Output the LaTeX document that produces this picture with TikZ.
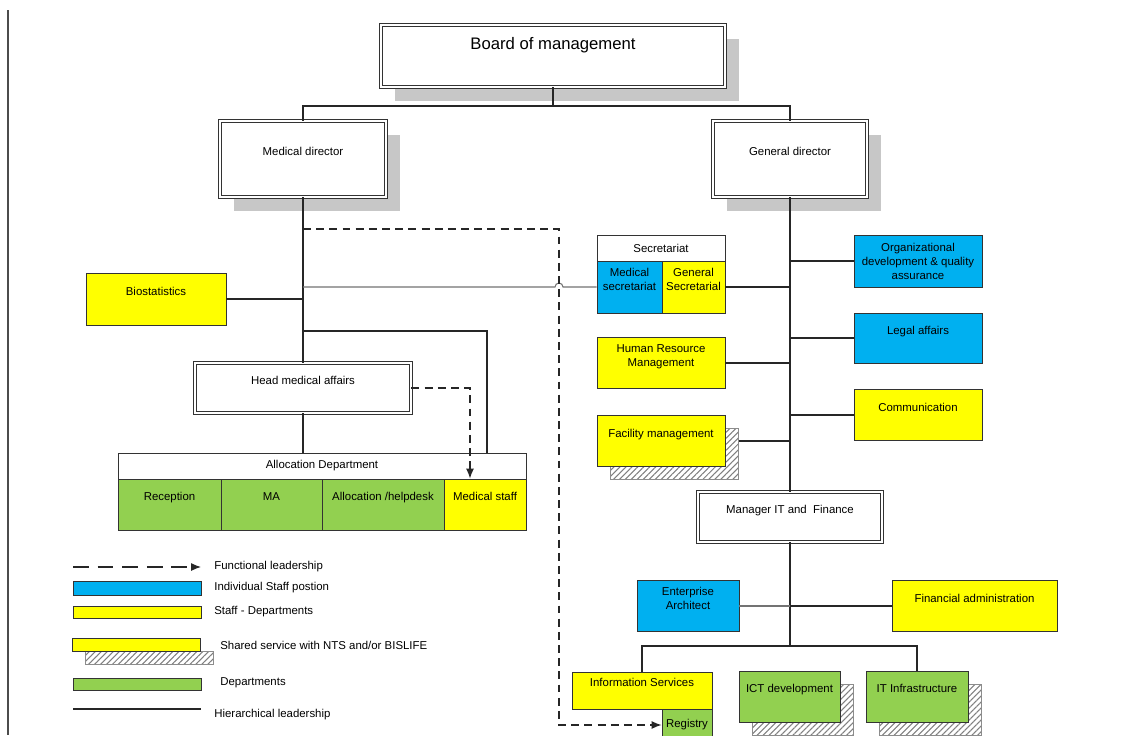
\documentclass[tikz,border=0pt]{standalone}
\usepackage{fontspec}
\setmainfont{Liberation Sans}
\usepackage{tikz}
\usetikzlibrary{arrows.meta,shadows,patterns.meta}
\definecolor{staffblue}{RGB}{0,176,240}
\definecolor{staffyellow}{RGB}{255,255,0}
\definecolor{deptgreen}{RGB}{146,208,80}
\tikzstyle{box}=[rectangle, draw=black!80, line width=0.55pt, inner sep=1pt, align=center]
\tikzstyle{plain}=[box, fill=white]
\tikzstyle{head}=[box, fill=white, double, double distance=1.2pt]
\tikzstyle{chief}=[head, drop shadow={shadow xshift=0.28cm, shadow yshift=-0.28cm, fill=black!22, opacity=1}]
\tikzstyle{staff}=[box, fill=staffblue]
\tikzstyle{staffdep}=[box, fill=staffyellow]
\tikzstyle{dept}=[box, fill=deptgreen]
\tikzstyle{shared}=[drop shadow={shadow xshift=0.27cm, shadow yshift=-0.26cm, pattern={Lines[angle=45, distance=2.4pt, line width=0.6pt]}, pattern color=black!50, draw=black!45, opacity=1}]
\tikzstyle{legtext}=[anchor=west, inner sep=0pt]
\tikzstyle{hier}=[draw=black!85, line width=0.6pt]
\tikzstyle{grayl}=[draw=black!55, line width=0.6pt]
\tikzstyle{funct}=[draw=black!85, line width=0.6pt, dash pattern=on 4.5pt off 3pt, -{Latex[length=2mm, width=1.6mm]}]
\tikzstyle{legfunct}=[funct, dash pattern=on 9pt off 5pt]
\tikzset{sz/.style 2 args={minimum width=#1*0.02cm, minimum height=#2*0.02cm},
	lift/.style={text depth=#1}, lift/.default=8.8pt}

\begin{document}
\begin{tikzpicture}[x=0.02cm, y=-0.02cm, font=\fontsize{6.5}{8}\selectfont]
	\clip (0,0) rectangle (1123,735);
	\fill[white] (0,0) rectangle (1123,735);
	\draw[black!70, line width=0.8pt] (8,10) -- (8,735);
	\begin{scope}
		\node (bm) at (553,56)[chief, sz={344}{62}, lift=14.6pt] {\fontsize{9.5}{11}\selectfont Board of management};
		\node (md) at (303,159)[chief, sz={166}{76}, lift] {Medical director};
		\node (gd) at (790,159)[chief, sz={154}{76}, lift] {General director};
		\node (bio) at (156,299)[staffdep, sz={140}{52}, lift] {Biostatistics};
		\node (hma) at (303,388)[head, sz={216}{50}, lift] {Head medical affairs};
		\node (alloc) at (322,466)[plain, sz={408}{26}] {Allocation Department};
		\node (rec) at (169.5,504.5)[dept, sz={103}{51}, lift] {Reception};
		\node (ma) at (271.5,504.5)[dept, sz={101}{51}, lift] {MA};
		\node (ahd) at (383,504.5)[dept, sz={122}{51}, lift] {Allocation /helpdesk};
		\node (mst) at (485,504.5)[staffdep, sz={82}{51}, lift] {Medical staff};
		\node (sec) at (661,248)[plain, sz={128}{26}] {Secretariat};
		\node (msec) at (629.5,287)[staff, sz={65}{52}, lift] {Medical\\secretariat};
		\node (gsec) at (693.5,287)[staffdep, sz={63}{52}, lift] {General\\Secretarial};
		\node (hrm) at (661,363)[staffdep, sz={128}{51}, lift] {Human Resource\\Management};
		\node (fac) at (661,441)[staffdep, shared, sz={128}{51}, lift] {Facility management};
		\node (org) at (918,261)[staff, sz={128}{52}] {Organizational\\development \& quality\\assurance};
		\node (leg) at (918,338)[staff, sz={128}{50}, lift] {Legal affairs};
		\node (com) at (918,415)[staffdep, sz={128}{51}, lift] {Communication};
		\node (mit) at (790,517)[head, sz={184}{50}, lift] {Manager IT and~ Finance};
		\node (ea) at (688,606)[staff, sz={102}{51}, lift] {Enterprise\\Architect};
		\node (fin) at (974.5,606)[staffdep, sz={165}{51}, lift] {Financial administration};
		\node (ins) at (642,690.5)[staffdep, sz={140}{37}, lift] {Information Services};
		\node (reg) at (687,725)[dept, sz={50}{32}] {Registry};
		\node (ict) at (789.5,696.5)[dept, shared, sz={101}{51}, lift] {ICT development};
		\node (iti) at (917,696.5)[dept, shared, sz={102}{51}, lift] {IT Infrastructure};
	\end{scope}
	\begin{scope}
		\coordinate (top) at (553,106);
		\coordinate (ms) at (487,331);
		\coordinate (fd) at (559,229);
		\coordinate (hop) at (fd |- msec.west);
		\coordinate (bar) at (790,646);
		\draw[hier] (bm.south) -- (top);
		\draw[hier] (md.north) |- (top) -| (gd.north);
		\draw[hier] (md.south) -- (hma.north);
		\draw[hier] (hma.south) -- (hma.south |- alloc.north);
		\draw[hier] (bio.east) -- (bio.east -| md.south);
		\draw[hier] (ms -| md.south) -| (ms |- alloc.north);
		\draw[grayl] (md.south |- msec.west) -- ([xshift=-0.08cm]hop) arc[start angle=180, end angle=0, radius=0.08cm] -- (msec.west);
		\draw[funct] (fd -| md.south) -- (fd) |- (reg.west);
		\draw[funct] (hma.east) -| ([xshift=-0.3cm]mst.north);
		\draw[hier] (gd.south) -- (mit.north);
		\foreach \n in {gsec, hrm}
			\draw[hier] (\n.east) -- (\n.east -| gd.south);
		\draw[hier] ([xshift=0.28cm]fac.east) -- (fac.east -| gd.south);
		\foreach \n in {org, leg, com}
			\draw[hier] (\n.west) -- (\n.west -| gd.south);
		\draw[hier] (mit.south) -- (bar);
		\draw[grayl] (ea.east) -- (ea.east -| mit.south);
		\draw[hier] (fin.west) -- (fin.west -| mit.south);
		\draw[hier] (ins.north) |- (bar) -| (iti.north);
	\end{scope}
	\begin{scope}
		\coordinate (fa) at (73,567);
		\coordinate (fb) at (201,567);
		\coordinate (ha) at (73,709);
		\coordinate (hb) at (201,709);
		\draw[legfunct] (fa) -- (fb);
		\node (lft) at (214,567)[legtext] {Functional leadership};
		\node (lb) at (137,588)[staff, sz={128}{14}] {};
		\node (lbt) at (214,588)[legtext] {Individual Staff postion};
		\node (ly) at (137,612.5)[staffdep, sz={128}{12}] {};
		\node (lyt) at (214,612)[legtext] {Staff - Departments};
		\node (ls) at (136,644.5)[staffdep, shared, sz={128}{13}] {};
		\node (lst) at (220,645)[legtext] {Shared service with NTS and/or BISLIFE};
		\node (lg) at (137,684)[dept, sz={128}{12}] {};
		\node (lgt) at (220,683)[legtext] {Departments};
		\draw[hier] (ha) -- (hb);
		\node (lht) at (214,715)[legtext] {Hierarchical leadership};
	\end{scope}
\end{tikzpicture}
\end{document}
